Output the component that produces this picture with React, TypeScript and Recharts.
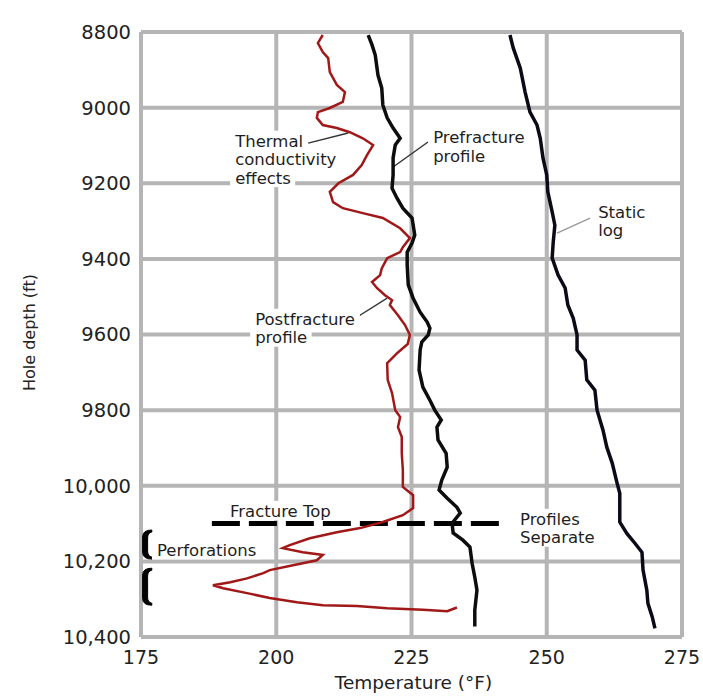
import React from 'react';
import {
  ScatterChart,
  Scatter,
  XAxis,
  YAxis,
  CartesianGrid,
  ReferenceLine,
  ReferenceDot,
  ReferenceArea,
  Label,
} from 'recharts';

// ---------- data ----------
const staticDepths = [8808, 8842, 8895, 8959, 9012, 9046, 9081, 9133, 9178, 9223, 9276, 9311, 9355, 9398, 9443, 9477, 9522, 9557, 9601, 9641, 9668, 9720, 9747, 9800, 9853, 9898, 9940, 9993, 10020, 10096, 10126, 10152, 10176, 10223, 10276, 10311, 10347, 10377];
const staticTemps = [243.2, 243.8, 245.1, 246.0, 246.9, 248.2, 248.8, 249.3, 250.0, 250.2, 251.0, 251.5, 251.2, 251.0, 252.1, 253.4, 253.9, 254.9, 255.6, 255.6, 257.1, 257.4, 258.9, 259.3, 260.4, 261.1, 262.1, 263.0, 263.5, 263.5, 264.8, 266.3, 267.6, 267.8, 268.5, 268.7, 269.5, 270.0];

const preDepths = [8808, 8834, 8861, 8914, 8948, 8993, 9027, 9054, 9081, 9099, 9133, 9178, 9213, 9239, 9266, 9292, 9337, 9358, 9382, 9416, 9469, 9504, 9541, 9567, 9583, 9601, 9620, 9641, 9694, 9739, 9774, 9800, 9826, 9845, 9879, 9914, 9951, 9985, 10011, 10033, 10057, 10072, 10099, 10125, 10144, 10162, 10205, 10242, 10276, 10329, 10372];
const preTemps = [217.0, 217.7, 218.3, 218.8, 219.5, 219.7, 220.5, 221.6, 222.9, 222.0, 221.6, 221.6, 221.4, 222.3, 223.4, 225.1, 225.6, 225.1, 224.2, 224.2, 224.4, 225.3, 226.6, 227.9, 228.4, 228.1, 226.9, 226.6, 226.4, 227.1, 228.4, 229.3, 230.5, 229.7, 229.9, 231.4, 231.6, 230.6, 230.1, 231.6, 233.4, 234.0, 232.5, 232.7, 234.5, 235.8, 236.2, 236.7, 237.1, 236.7, 236.7];

const postDepths = [8808, 8829, 8853, 8869, 8906, 8940, 8959, 8985, 9001, 9012, 9027, 9046, 9054, 9065, 9081, 9099, 9125, 9152, 9178, 9200, 9223, 9250, 9266, 9279, 9292, 9319, 9345, 9369, 9382, 9398, 9425, 9443, 9461, 9477, 9496, 9509, 9522, 9549, 9575, 9601, 9625, 9650, 9676, 9720, 9755, 9800, 9818, 9845, 9871, 9914, 9959, 10003, 10025, 10059, 10078, 10096, 10112, 10123, 10139, 10157, 10165, 10176, 10183, 10197, 10210, 10223, 10231, 10245, 10255, 10263, 10271, 10284, 10297, 10308, 10316, 10318, 10324, 10328, 10332, 10322];
const postTemps = [208.6, 207.7, 208.6, 209.6, 209.9, 211.2, 212.7, 212.3, 209.9, 207.7, 207.5, 208.6, 211.2, 213.6, 216.0, 217.9, 216.8, 215.8, 214.2, 211.5, 209.9, 210.5, 212.3, 216.0, 219.7, 222.9, 224.7, 223.4, 222.9, 220.5, 219.5, 219.2, 217.7, 218.6, 220.1, 221.4, 221.0, 222.5, 223.8, 224.7, 224.3, 222.3, 220.5, 220.6, 221.4, 222.0, 222.9, 222.5, 223.2, 223.2, 223.4, 223.4, 225.3, 225.3, 223.4, 219.7, 215.5, 211.2, 206.2, 202.5, 201.2, 204.9, 208.6, 207.5, 203.1, 198.8, 197.6, 194.6, 191.5, 188.3, 190.2, 194.6, 198.8, 203.8, 208.6, 214.9, 220.5, 227.1, 231.6, 233.4];

const xTicks = [175, 200, 225, 250, 275];
const yTicks = [8800, 9000, 9200, 9400, 9600, 9800, 10000, 10200, 10400];
const yTickLabels = ['8800', '9000', '9200', '9400', '9600', '9800', '10,000', '10,200', '10,400'];

const fractureTopDepth = 10100;
const fractureTopRange = [188.1, 241.4];
const perforations = [
  [10117, 10194],
  [10218, 10316],
];

type Note = { lines: string[]; t: number; d: number };
const notes: Note[] = [
  { lines: ['Thermal', 'conductivity', 'effects'], t: 192.4, d: 9088 },
  { lines: ['Prefracture', 'profile'], t: 229.0, d: 9078 },
  { lines: ['Static', 'log'], t: 259.5, d: 9276 },
  { lines: ['Postfracture', 'profile'], t: 196.1, d: 9559 },
  { lines: ['Fracture Top'], t: 191.45, d: 10067 },
  { lines: ['Perforations'], t: 177.96, d: 10170 },
  { lines: ['Profiles', 'Separate'], t: 245.05, d: 10088 },
];

const leaders = [
  { from: [205.9, 9094], to: [213.3, 9067], color: '#333' },
  { from: [228.05, 9091], to: [221.6, 9157], color: '#333' },
  { from: [258.0, 9292], to: [251.9, 9332], color: '#9a9a9a' },
  { from: [214.6, 9557], to: [220.5, 9504], color: '#333' },
];

const zip = (t: number[], d: number[]) => t.map((v, i) => ({ t: v, d: d[i] }));
const staticData = zip(staticTemps, staticDepths);
const preData = zip(preTemps, preDepths);
const postData = zip(postTemps, postDepths);

const FONT = '"DejaVu Sans", Verdana, sans-serif';
const NOTE_SIZE = 16.5;
const LH = 18.5;

// approximate DejaVu Sans advance widths (em) for background boxes
const EM: Record<string, number> = {
  a: 0.613, c: 0.55, d: 0.635, e: 0.615, f: 0.352, g: 0.635, h: 0.634, i: 0.278,
  l: 0.278, m: 0.974, n: 0.634, o: 0.612, p: 0.635, r: 0.411, s: 0.521, t: 0.392,
  u: 0.634, v: 0.592, y: 0.592, F: 0.575, P: 0.603, S: 0.635, T: 0.611, ' ': 0.318,
};
const textWidth = (s: string) =>
  s.split('').reduce((acc, ch) => acc + (EM[ch] ?? 0.6), 0) * NOTE_SIZE;

const NoDot = () => <g />;

const NoteShape = (props: any, note: Note) => {
  const { cx, cy } = props;
  return (
    <g>
      {note.lines.map((s, i) => (
        <rect
          key={`b${i}`}
          x={cx - 5}
          y={cy + i * LH - LH / 2 - 1}
          width={textWidth(s) + 9}
          height={LH + 1}
          fill="#fff"
        />
      ))}
      {note.lines.map((s, i) => (
        <text
          key={i}
          x={cx}
          y={cy + i * LH}
          dy="0.36em"
          fontFamily={FONT}
          fontSize={NOTE_SIZE}
          fill="#1e1e1e"
        >
          {s}
        </text>
      ))}
    </g>
  );
};

const Bracket = (props: any) => {
  const { x, y, width, height } = props;
  const t = 5;
  const r = 7;
  const d = `M ${x + width} ${y}
    Q ${x} ${y} ${x} ${y + r}
    L ${x} ${y + height - r}
    Q ${x} ${y + height} ${x + width} ${y + height}
    L ${x + width} ${y + height - 2}
    Q ${x + t} ${y + height - 3} ${x + t} ${y + height - r - 1}
    L ${x + t} ${y + r + 1}
    Q ${x + t} ${y + 3} ${x + width} ${y + 2} Z`;
  return <path d={d} fill="#000" stroke="#000" strokeWidth={1} />;
};

export default function App() {
  return (
    <div style={{ position: 'absolute', left: 0, top: 0, background: '#fff' }}>
      <ScatterChart
        width={703}
        height={697}
        margin={{ top: 32, right: 21, left: 0, bottom: 0 }}
      >
        <CartesianGrid stroke="#b5b5b5" strokeWidth={4} />
        <XAxis
          type="number"
          dataKey="t"
          domain={[175, 275]}
          ticks={xTicks}
          axisLine={false}
          tickLine={false}
          tickSize={0}
          tickMargin={14}
          height={60}
          tick={{ fontSize: 19, fill: '#222', fontFamily: FONT }}
          allowDataOverflow
        >
          <Label
            content={(p: any) => {
              const vb = p.viewBox;
              return (
                <text
                  x={vb.x + vb.width / 2 + 2}
                  y={vb.y + 52}
                  textAnchor="middle"
                  fontFamily={FONT}
                  fontSize={18.5}
                  fill="#222"
                >
                  Temperature (°F)
                </text>
              );
            }}
          />
        </XAxis>
        <YAxis
          type="number"
          dataKey="d"
          reversed
          domain={[8800, 10400]}
          ticks={yTicks}
          tickFormatter={(v: number) => yTickLabels[yTicks.indexOf(v)] ?? String(v)}
          axisLine={false}
          tickLine={false}
          tickSize={0}
          tickMargin={10}
          width={141}
          tick={{ fontSize: 19.5, fill: '#222', fontFamily: FONT }}
          allowDataOverflow
        >
          <Label
            content={(p: any) => {
              const vb = p.viewBox;
              const cx = vb.x + 29;
              const cy = vb.y + vb.height / 2 - 2;
              return (
                <text
                  x={cx}
                  y={cy}
                  dy="0.36em"
                  textAnchor="middle"
                  transform={`rotate(-90 ${cx} ${cy})`}
                  fontFamily={FONT}
                  fontSize={16}
                  fill="#222"
                >
                  Hole depth (ft)
                </text>
              );
            }}
          />
        </YAxis>

        {notes.map((n, i) => (
          <ReferenceDot
            key={`n${i}`}
            x={n.t}
            y={n.d}
            r={0}
            ifOverflow="visible"
            shape={(p: any) => NoteShape(p, n)}
          />
        ))}

        <Scatter
          data={staticData}
          line={{ stroke: '#0b0b18', strokeWidth: 3.5 }}
          shape={NoDot}
          isAnimationActive={false}
        />
        <Scatter
          data={preData}
          line={{ stroke: '#0d0d0d', strokeWidth: 3.5 }}
          shape={NoDot}
          isAnimationActive={false}
        />
        <Scatter
          data={postData}
          line={{ stroke: '#a11818', strokeWidth: 2.5 }}
          shape={NoDot}
          isAnimationActive={false}
        />

        {leaders.map((l, i) => (
          <ReferenceLine
            key={`l${i}`}
            segment={[
              { x: l.from[0], y: l.from[1] },
              { x: l.to[0], y: l.to[1] },
            ]}
            stroke={l.color}
            strokeWidth={1.4}
            ifOverflow="visible"
          />
        ))}

        <ReferenceLine
          segment={[
            { x: fractureTopRange[0], y: fractureTopDepth },
            { x: fractureTopRange[1], y: fractureTopDepth },
          ]}
          stroke="#000"
          strokeWidth={5}
          strokeDasharray="28 9"
          ifOverflow="visible"
        />

        {perforations.map((p, i) => (
          <ReferenceArea
            key={`p${i}`}
            x1={175.3}
            x2={177.0}
            y1={p[0]}
            y2={p[1]}
            ifOverflow="visible"
            shape={Bracket}
          />
        ))}
      </ScatterChart>
    </div>
  );
}
